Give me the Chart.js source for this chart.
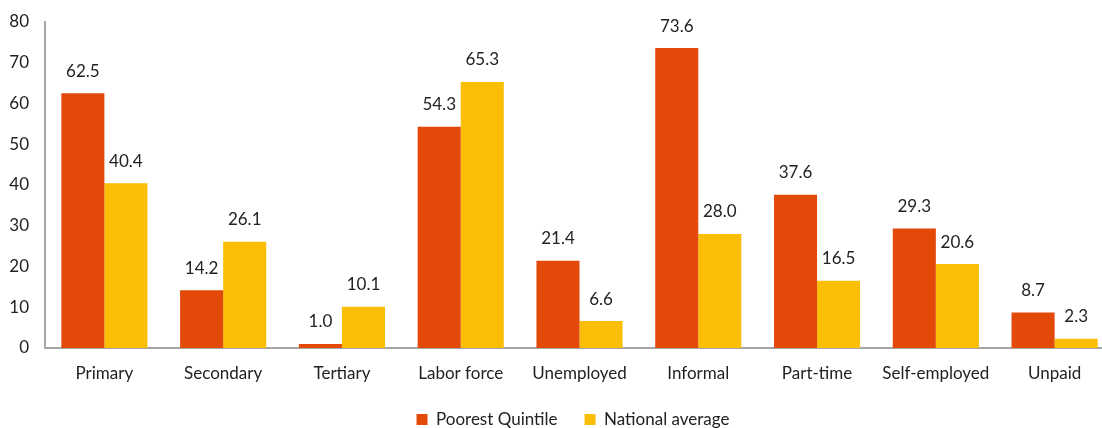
<!DOCTYPE html>
<html>
<head>
<meta charset="utf-8">
<script src="https://cdn.jsdelivr.net/npm/chart.js@4.4.1/dist/chart.umd.min.js"></script>
<style>
  html, body { margin: 0; padding: 0; background: #fff; overflow: hidden; }
  .wrap { position: relative; width: 1116px; height: 428px; }
</style>
</head>
<body>
<div class="wrap"><canvas id="chart"></canvas></div>
<script>
// ── Data ──────────────────────────────────────────────────
const categories = ['Primary', 'Secondary', 'Tertiary', 'Labor force', 'Unemployed',
                    'Informal', 'Part-time', 'Self-employed', 'Unpaid'];
const poorest  = [62.5, 14.2, 1.0, 54.3, 21.4, 73.6, 37.6, 29.3, 8.7];
const national = [40.4, 26.1, 10.1, 65.3, 6.6, 28.0, 16.5, 20.6, 2.3];
const seriesNames = ['Poorest Quintile', 'National average'];

const ORANGE = '#E34A09';
const YELLOW = '#F9BE05';
const TEXT = '#222222';
const FONT = 'Lato, "Open Sans", sans-serif';

// value labels above bars
const valueLabels = {
  id: 'valueLabels',
  afterDatasetsDraw(chart) {
    const ctx = chart.ctx;
    ctx.save();
    ctx.font = '17px ' + FONT;
    ctx.fillStyle = TEXT;
    ctx.textAlign = 'center';
    ctx.textBaseline = 'middle';
    chart.data.datasets.forEach((ds, i) => {
      chart.getDatasetMeta(i).data.forEach((bar, j) => {
        ctx.fillText(ds.data[j].toFixed(1), bar.x, bar.y - 22);
      });
    });
    ctx.restore();
  }
};

// nudge the legend a bit to the right, like the original
const legendShift = {
  id: 'legendShift',
  afterLayout(chart) {
    if (!chart.legend) return;
    chart.legend.left += 16;
    chart.legend.right += 16;
  }
};

new Chart(document.getElementById('chart'), {
  type: 'bar',
  data: {
    labels: categories,
    datasets: [
      { label: seriesNames[0], data: poorest,  backgroundColor: ORANGE },
      { label: seriesNames[1], data: national, backgroundColor: YELLOW },
    ],
  },
  options: {
    responsive: true, maintainAspectRatio: false,
    animation: false,
    layout: { padding: { top: 22, right: 2, bottom: 0, left: 0 } },
    datasets: { bar: { categoryPercentage: 0.725, barPercentage: 1.0 } },
    plugins: {
      tooltip: { enabled: false },
      legend: {
        position: 'bottom',
        maxHeight: 44,
        labels: { color: TEXT, font: { family: FONT, size: 17 }, boxWidth: 11, boxHeight: 11, padding: 27 },
      },
    },
    scales: {
      x: {
        grid: { display: false, drawTicks: false },
        border: { color: '#A6A6A6', width: 2 },
        ticks: { color: TEXT, font: { family: FONT, size: 17 }, padding: 15 },
        afterFit: s => { s.height = 36; },
      },
      y: {
        min: 0, max: 80,
        grid: { display: false, drawTicks: false },
        border: { color: '#A6A6A6', width: 2 },
        ticks: { stepSize: 10, color: TEXT, font: { family: FONT, size: 17 }, padding: 16 },
        afterFit: s => { s.width = 45; s.paddingTop = 0; s.paddingBottom = 0; },
      },
    },
  },
  plugins: [valueLabels, legendShift],
});
</script>
</body>
</html>
